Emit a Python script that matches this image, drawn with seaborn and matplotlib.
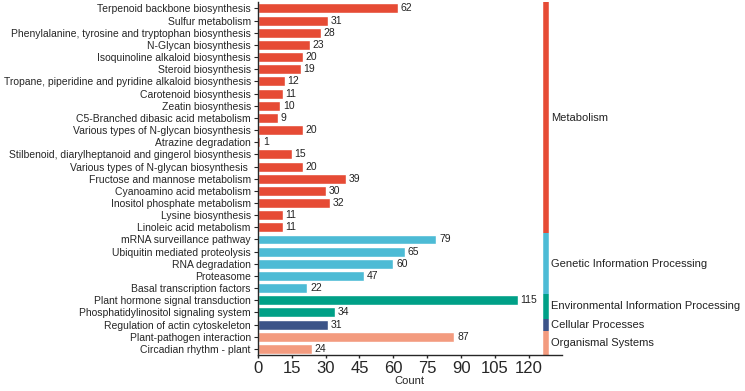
import seaborn as sns
import matplotlib.pyplot as plt
import pandas as pd

pathways = [
    'Terpenoid backbone biosynthesis', 'Sulfur metabolism',
    'Phenylalanine, tyrosine and tryptophan biosynthesis', 'N-Glycan biosynthesis',
    'Isoquinoline alkaloid biosynthesis', 'Steroid biosynthesis',
    'Tropane, piperidine and pyridine alkaloid biosynthesis', 'Carotenoid biosynthesis',
    'Zeatin biosynthesis', 'C5-Branched dibasic acid metabolism',
    'Various types of N-glycan biosynthesis', 'Atrazine degradation',
    'Stilbenoid, diarylheptanoid and gingerol biosynthesis',
    'Various types of N-glycan biosynthesis ', 'Fructose and mannose metabolism',
    'Cyanoamino acid metabolism', 'Inositol phosphate metabolism',
    'Lysine biosynthesis', 'Linoleic acid metabolism',
    'mRNA surveillance pathway', 'Ubiquitin mediated proteolysis', 'RNA degradation',
    'Proteasome', 'Basal transcription factors',
    'Plant hormone signal transduction', 'Phosphatidylinositol signaling system',
    'Regulation of actin cytoskeleton',
    'Plant-pathogen interaction', 'Circadian rhythm - plant',
]
counts = [62, 31, 28, 23, 20, 19, 12, 11, 10, 9, 20, 1, 15, 20, 39, 30, 32, 11, 11,
          79, 65, 60, 47, 22, 115, 34, 31, 87, 24]
groups = (['Metabolism'] * 19 + ['Genetic Information Processing'] * 5
          + ['Environmental Information Processing'] * 2 + ['Cellular Processes']
          + ['Organismal Systems'] * 2)
group_names = ['Metabolism', 'Genetic Information Processing',
               'Environmental Information Processing', 'Cellular Processes',
               'Organismal Systems']
group_colors = ['#E64B35', '#4DBBD5', '#00A087', '#3C5488', '#F39B7F']

df = pd.DataFrame({'Pathway': pathways, 'Count': counts, 'Group': groups})

sns.set_style('ticks')
plt.rcParams['font.family'] = ['Liberation Sans', 'DejaVu Sans']

fig = plt.figure(figsize=(7.45, 3.91), dpi=100)
ax = fig.add_axes([0.346, 0.092, 0.408, 0.902])

sns.barplot(data=df, y='Pathway', x='Count', hue='Group', hue_order=group_names,
            palette=group_colors, dodge=False, width=0.82, orient='h',
            saturation=1, legend=False, ax=ax)

for cont in ax.containers:
    ax.bar_label(cont, padding=2, fontsize=7.5, color='#222222')

# group strip on the right
gx = 127.5
start = 0
for name, col in zip(group_names, group_colors):
    n = groups.count(name)
    ax.plot([gx, gx], [start - 0.5, start + n - 0.5], color=col, lw=4,
            solid_capstyle='butt', clip_on=False)
    ax.text(gx + 2.3, start + (n - 1) / 2, name, va='center', ha='left',
            fontsize=8, color='#222222', clip_on=False)
    start += n

ax.set_xlim(0, 134.5)
ax.set_ylim(len(pathways) - 0.5, -0.5)
ax.set_xticks(range(0, 121, 15))
ax.tick_params(axis='x', labelsize=12, length=2.5, width=1, pad=1.5)
ax.tick_params(axis='y', labelsize=7.5, length=3, width=0.8, pad=2)
ax.set_xlabel('Count', fontsize=8, labelpad=0)
ax.set_ylabel('')
sns.despine(ax=ax)
ax.spines['left'].set_linewidth(1)
ax.spines['bottom'].set_linewidth(1)

fig.savefig('out.png', dpi=100)
